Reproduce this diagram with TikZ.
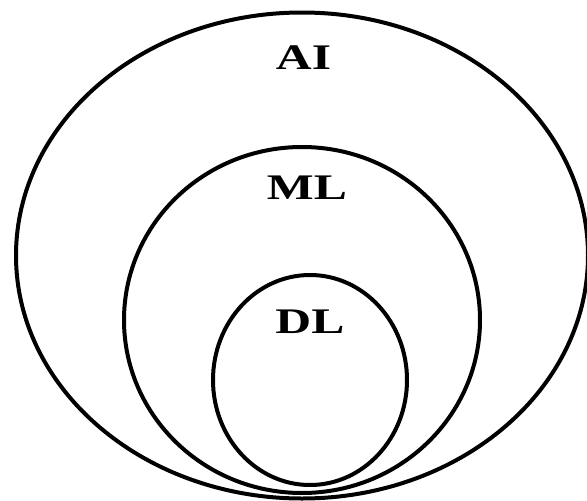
\documentclass[tikz,border=0pt]{standalone}
\usepackage{fontspec}
\setmainfont{Liberation Serif}
\begin{document}
\begin{tikzpicture}[x=1pt,y=-1pt,
  ring/.style={draw=black,line width=4pt},
  lab/.style={font=\fontsize{36}{40}\selectfont\bfseries,anchor=base,inner sep=0pt,xscale=1.38}]
\useasboundingbox (0,0) rectangle (587,501);
\clip (0,0) rectangle (587,501);
\fill[white] (0,0) rectangle (587,501);
\draw[ring] (302,255.5) ellipse [x radius=286, y radius=243];
\draw[ring] (302,320) ellipse [x radius=178, y radius=173];
\draw[ring] (310,380) ellipse [x radius=97, y radius=105];
\node[lab] (ai) at (303.5,69) {AI};
\node[lab] (ml) at (307,199) {ML};
\node[lab] (dl) at (310,333) {DL};
\end{tikzpicture}
\end{document}
